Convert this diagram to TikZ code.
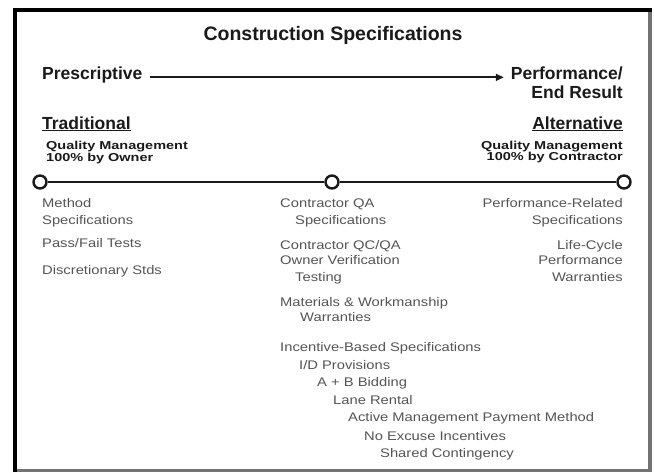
\documentclass[tikz,border=0pt]{standalone}
\usepackage{fontspec}
\setmainfont{Liberation Sans}
\newfontfamily\bodyfont[FakeStretch=1.18]{Liberation Sans}
\newfontfamily\subfont[FakeStretch=1.26]{Liberation Sans}
\usetikzlibrary{arrows.meta}
\definecolor{bodygray}{HTML}{555555}
\definecolor{inkdark}{HTML}{1A1A1A}
\begin{document}
\begin{tikzpicture}[x=1pt,y=-1pt,
  titletext/.style={font=\bfseries\fontsize{19.5}{22}\selectfont, text=inkdark, inner sep=0pt},
  headtext/.style={font=\bfseries\fontsize{17.5}{20}\selectfont, text=inkdark, inner sep=0pt},
  subtext/.style={font=\subfont\bfseries\fontsize{11.5}{13}\selectfont, text=inkdark, inner sep=0pt},
  bodytext/.style={font=\bodyfont\fontsize{12.5}{15}\selectfont, text=bodygray, inner sep=0pt},
  stage/.style={circle, draw=inkdark, line width=2.4pt, fill=white, minimum size=13pt, inner sep=0pt},
  spine/.style={draw=inkdark, line width=2.2pt}
]
\useasboundingbox (0,0) rectangle (654,472);
\fill[white] (0,0) rectangle (654,472);

% frame: dark on the left and top, grey on the right and bottom
\draw[black!55, line width=3.5pt] (650,9.5) -- (650,470.5) -- (15,470.5);
\draw[black, line width=4pt] (15,472) -- (15,9.5) -- (651.75,9.5);

% title
\node[titletext, anchor=base] (title) at (333,40) {Construction Specifications};

% prescriptive to performance scale
\node[headtext, anchor=base west] (presc) at (42,79) {Prescriptive};
\node[headtext, anchor=base east] (perf) at (623,79) {Performance/};
\node[headtext, anchor=base east] (endres) at (623,98) {End Result};
\draw[inkdark, line width=1.8pt, -{Triangle[length=8pt,width=7pt]}]
  ([xshift=7pt,yshift=-1pt]presc.mid east) -- ([xshift=-7pt,yshift=-1pt]perf.mid west);

% the two ends of the range
\node[headtext, anchor=base west] (trad) at (42,129) {\underline{Traditional}};
\node[headtext, anchor=base east] (alt) at (623,129) {\underline{Alternative}};
\node[subtext, anchor=base west] (qmown) at (46,149) {Quality Management};
\node[subtext, anchor=base west] (byown) at (46,161.5) {100\% by Owner};
\node[subtext, anchor=base east] (qmcon) at (623,149) {Quality Management};
\node[subtext, anchor=base east] (bycon) at (623,160.5) {100\% by Contractor};

% spine with three stages
\node[stage] (sl) at (40,182) {};
\node[stage] (sm) at (332,182) {};
\node[stage] (sr) at (624,182) {};
\draw[spine] (sl) -- (sm);
\draw[spine] (sm) -- (sr);

% traditional specifications
\node[bodytext, anchor=base west] (l1) at (42,207.5) {Method};
\node[bodytext, anchor=base west] (l2) at (42,224.5) {Specifications};
\node[bodytext, anchor=base west] (l3) at (42,247.5) {Pass/Fail Tests};
\node[bodytext, anchor=base west] (l4) at (42,274.5) {Discretionary Stds};

% intermediate specifications
\node[bodytext, anchor=base west] (m1) at (280,207.5) {Contractor QA};
\node[bodytext, anchor=base west] (m2) at (295,224.5) {Specifications};
\node[bodytext, anchor=base west] (m3) at (280,249.5) {Contractor QC/QA};
\node[bodytext, anchor=base west] (m4) at (280,264.5) {Owner Verification};
\node[bodytext, anchor=base west] (m5) at (295,281.5) {Testing};
\node[bodytext, anchor=base west] (m6) at (280,306.5) {Materials \& Workmanship};
\node[bodytext, anchor=base west] (m7) at (300,321.5) {Warranties};
\node[bodytext, anchor=base west] (m8) at (280,351.5) {Incentive-Based Specifications};
\node[bodytext, anchor=base west] (m9) at (299,369.5) {I/D Provisions};
\node[bodytext, anchor=base west] (m10) at (317,386.5) {A + B Bidding};
\node[bodytext, anchor=base west] (m11) at (333,404.5) {Lane Rental};
\node[bodytext, anchor=base west] (m12) at (348,421.5) {Active Management Payment Method};
\node[bodytext, anchor=base west] (m13) at (364,440.5) {No Excuse Incentives};
\node[bodytext, anchor=base west] (m14) at (380,457.5) {Shared Contingency};

% alternative specifications
\node[bodytext, anchor=base east] (r1) at (623,207.5) {Performance-Related};
\node[bodytext, anchor=base east] (r2) at (623,224.5) {Specifications};
\node[bodytext, anchor=base east] (r3) at (623,249.5) {Life-Cycle};
\node[bodytext, anchor=base east] (r4) at (623,264.5) {Performance};
\node[bodytext, anchor=base east] (r5) at (623,281.5) {Warranties};
\end{tikzpicture}
\end{document}
